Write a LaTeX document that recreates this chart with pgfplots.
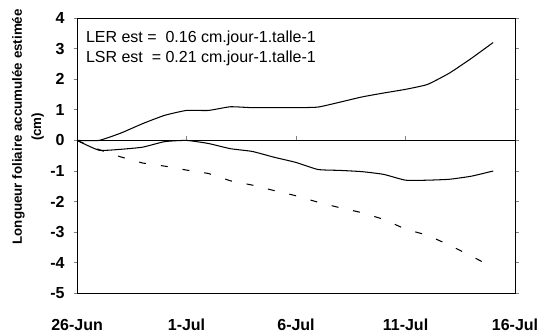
\documentclass[border=0pt]{standalone}
\usepackage{pgfplots}
\pgfplotsset{compat=1.18}
\usepackage{fontspec}
\setmainfont{Liberation Sans}

\begin{document}
\begin{tikzpicture}
\pgfplotsset{
  frame/.style={
    width=315pt, height=198pt, scale only axis,
    xmin=0, xmax=20, ymin=-5, ymax=4,
  }
}
\begin{axis}[
  frame, name=ax,
  axis line style={line width=0.7pt},
  xtick={0,5,10,15,20},
  xticklabels={26-Jun,1-Jul,6-Jul,11-Jul,16-Jul},
  x tick style={draw=none},
  xticklabel style={font=\bfseries\fontsize{11.5}{13}\selectfont, anchor=base, yshift=-24.5pt},
  ytick={-5,-4,...,4},
  yticklabels={-5,-4,-3,-2,-1,0,1,2,3,4},
  yticklabel style={font=\bfseries\fontsize{11.5}{13}\selectfont, xshift=-3pt},
  y tick style={line width=0.7pt},
  tick align=outside, major tick length=2.5pt,
  ylabel={Longueur foliaire accumulée estimée\\[1pt](cm)},
  ylabel style={font=\bfseries\fontsize{9.6}{13}\selectfont, align=center,
    at={(axis description cs:-0.112,0.605)}, anchor=center},
  every axis plot/.append style={line width=0.75pt, black},
]
% courbe LER (croissance)
\addplot[smooth, tension=0.3] coordinates {
  (0,0) (1,0) (2,0.24) (3,0.55) (4,0.82) (5,0.98) (6,0.98) (7,1.1)
  (8,1.07) (9,1.07) (10,1.07) (11,1.09) (12,1.25) (13,1.42) (14,1.55)
  (15,1.67) (16,1.83) (17,2.2) (18,2.68) (19,3.2)};
% courbe nette
\addplot[smooth, tension=0.3] coordinates {
  (0,0) (1,-0.32) (2,-0.29) (3,-0.22) (4,-0.04) (5,0) (6,-0.1) (7,-0.27)
  (8,-0.36) (9,-0.55) (10,-0.72) (11,-0.95) (12,-0.98) (13,-1.02) (14,-1.11)
  (15,-1.3) (16,-1.3) (17,-1.27) (18,-1.17) (19,-1.0)};
% courbe LSR (senescence)
\addplot[dash pattern=on 5pt off 10.8pt] coordinates {
  (0,0) (1,-0.3) (2,-0.54) (3,-0.74) (4,-0.84) (5,-0.97) (6,-1.08) (7,-1.32)
  (8,-1.46) (9,-1.64) (10,-1.81) (11,-2.02) (12,-2.2) (13,-2.36) (14,-2.58)
  (15,-2.9) (16,-3.1) (17,-3.42) (18,-3.78) (19,-4.15)};
\node[anchor=north west, inner sep=0pt, align=left,
      font=\fontsize{11.5}{14.4}\selectfont]
  at (axis description cs:0.02,0.955)
  {LER est =\ \ 0.16 cm.jour-1.talle-1\\LSR est\ \ = 0.21 cm.jour-1.talle-1};
\end{axis}
% ligne du zero avec ses graduations
\begin{axis}[
  frame,
  axis x line=middle, axis y line=none,
  x axis line style={-, line width=0.7pt},
  xtick={5,10,15}, xticklabels={},
  x tick style={line width=0.7pt},
  xtick align=inside, major tick length=3pt,
]
\end{axis}
\pgfresetboundingbox
\path ([shift={(-55.4pt,-28pt)}]ax.south west) rectangle ([shift={(19.4pt,13pt)}]ax.north east);
\end{tikzpicture}
\end{document}
